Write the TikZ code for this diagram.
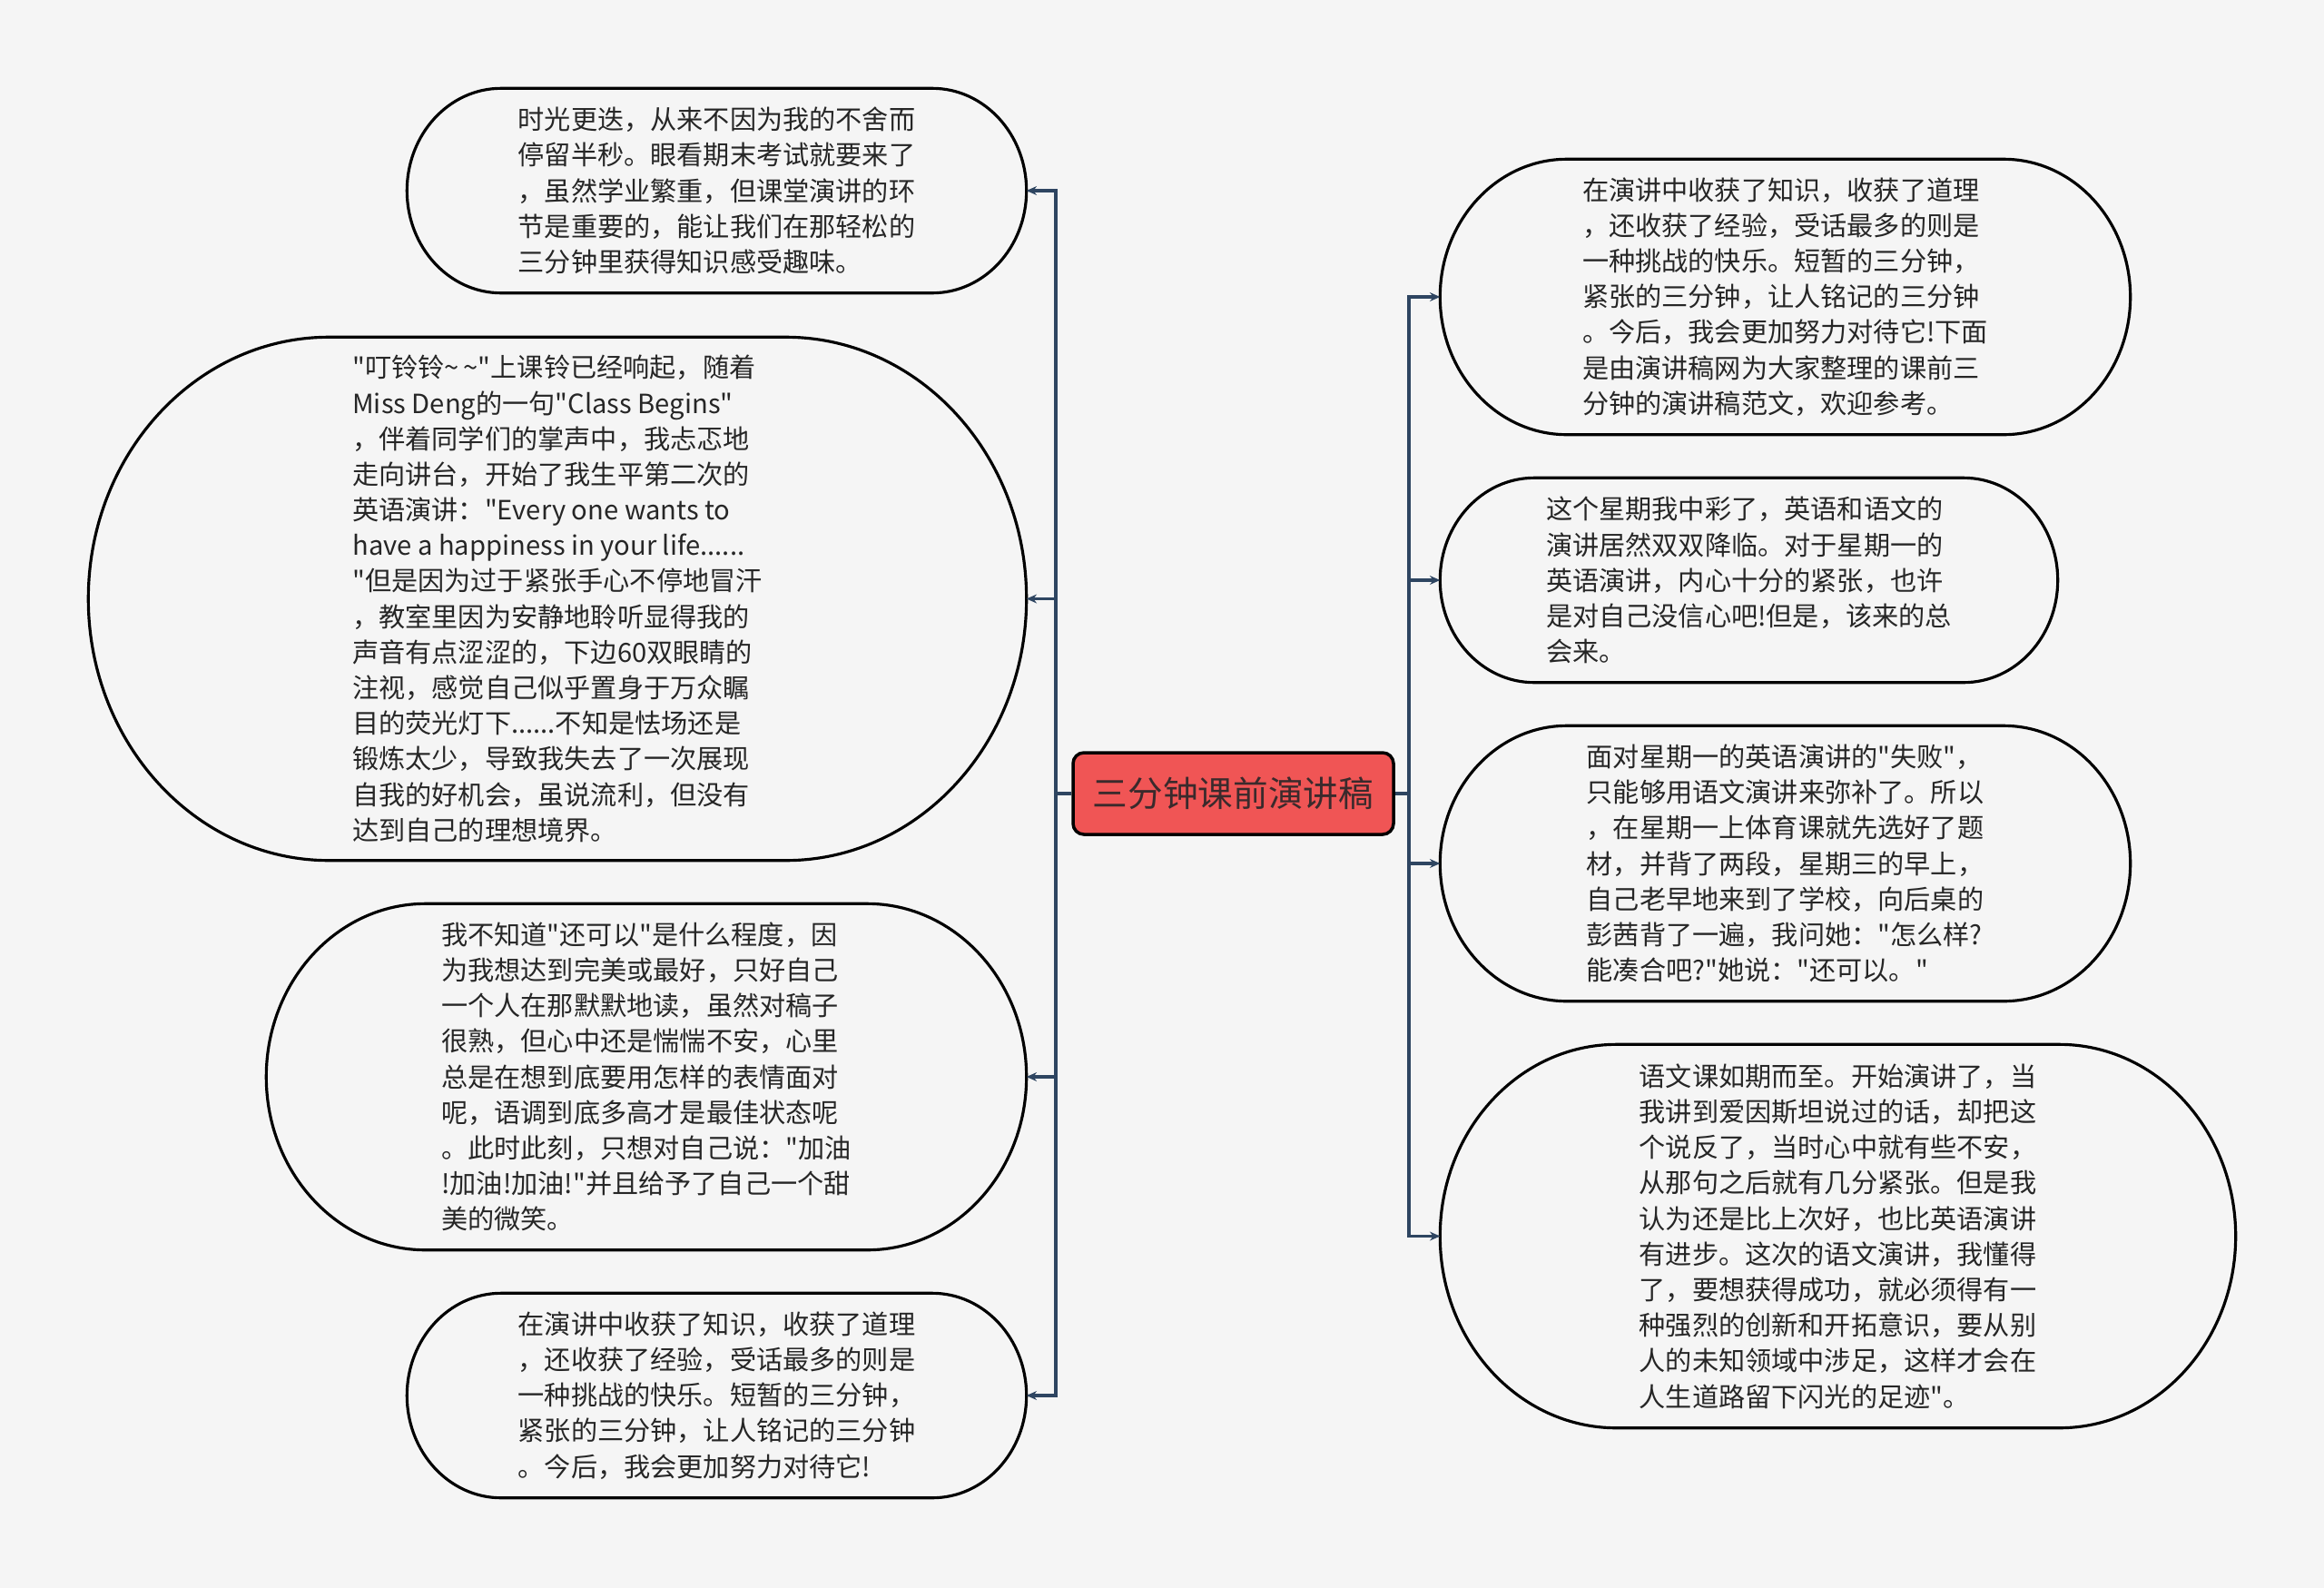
\documentclass[tikz,border=0pt]{standalone}
\usepackage{fontspec}
\setmainfont{Noto Sans CJK SC}[Ligatures=TeXOff]
\usetikzlibrary{arrows.meta,positioning,calc}
\definecolor{mapBg}{HTML}{F5F5F5}
\definecolor{mapRoot}{HTML}{F05555}
\definecolor{mapRootText}{HTML}{3A2A2C}
\definecolor{mapLink}{HTML}{2E4561}

\begin{document}
\begin{tikzpicture}[
            >=Stealth,
            every node/.style={font=\fontsize{8.3pt}{11.15pt}\selectfont},
            root/.style={
                draw=black,
                line width=1pt,
                fill=mapRoot,
                rounded corners=0.12cm,
                minimum width=3.53cm,
                minimum height=0.9cm,
                inner sep=0pt,
                text=mapRootText,
                font=\fontsize{11pt}{13pt}\selectfont
            },
            bubble/.style={inner sep=0pt, align=left, text=black!85},
            outline/.style={line width=0.9pt, draw=black},
            link/.style={-{Stealth[length=3.2pt, width=2.8pt]}, line width=0.9pt, draw=mapLink}
        ]

        \fill[mapBg] (0,0) rectangle (25.6,-17.49);
        \useasboundingbox (0,0) rectangle (25.6,-17.49);

        %---------------- Root ----------------%
        \node[root] (root) at (13.585,-8.74) {三分钟课前演讲稿};
        \coordinate (ltrunk) at (11.63,-8.74);
        \coordinate (rtrunk) at (15.52,-8.74);

        %---------------- Left ----------------%
        \node[bubble, minimum width=6.81cm, minimum height=2.24cm] (l1) at (7.895,-2.10)
            {时光更迭，从来不因为我的不舍而\\停留半秒。眼看期末考试就要来了\\，虽然学业繁重，但课堂演讲的环\\节是重要的，能让我们在那轻松的\\三分钟里获得知识感受趣味。};
        \node[bubble, minimum width=10.32cm, minimum height=5.75cm] (l2) at (6.14,-6.595)
            {"叮铃铃\textasciitilde\,\textasciitilde"上课铃已经响起，随着\\Miss Deng的一句"Class Begins"\\，伴着同学们的掌声中，我忐忑地\\走向讲台，开始了我生平第二次的\\英语演讲："Every one wants to\\have a happiness in your life......\\"但是因为过于紧张手心不停地冒汗\\，教室里因为安静地聆听显得我的\\声音有点涩涩的，下边60双眼睛的\\注视，感觉自己似乎置身于万众瞩\\目的荧光灯下......不知是怯场还是\\锻炼太少，导致我失去了一次展现\\自我的好机会，虽说流利，但没有\\达到自己的理想境界。};
        \node[bubble, minimum width=8.36cm, minimum height=3.80cm] (l3) at (7.12,-11.86)
            {我不知道"还可以"是什么程度，因\\为我想达到完美或最好，只好自己\\一个人在那默默地读，虽然对稿子\\很熟，但心中还是惴惴不安，心里\\总是在想到底要用怎样的表情面对\\呢，语调到底多高才是最佳状态呢\\。此时此刻，只想对自己说："加油\\!加油!加油!"并且给予了自己一个甜\\美的微笑。};
        \node[bubble, minimum width=6.81cm, minimum height=2.24cm] (l4) at (7.895,-15.37)
            {在演讲中收获了知识，收获了道理\\，还收获了经验，受话最多的则是\\一种挑战的快乐。短暂的三分钟，\\紧张的三分钟，让人铭记的三分钟\\。今后，我会更加努力对待它!};

        %---------------- Right ----------------%
        \node[bubble, minimum width=7.59cm, minimum height=3.02cm] (r1) at (19.665,-3.27)
            {在演讲中收获了知识，收获了道理\\，还收获了经验，受话最多的则是\\一种挑战的快乐。短暂的三分钟，\\紧张的三分钟，让人铭记的三分钟\\。今后，我会更加努力对待它!下面\\是由演讲稿网为大家整理的课前三\\分钟的演讲稿范文，欢迎参考。};
        \node[bubble, minimum width=6.79cm, minimum height=2.24cm] (r2) at (19.265,-6.39)
            {这个星期我中彩了，英语和语文的\\演讲居然双双降临。对于星期一的\\英语演讲，内心十分的紧张，也许\\是对自己没信心吧!但是，该来的总\\会来。};
        \node[bubble, minimum width=7.59cm, minimum height=3.02cm] (r3) at (19.665,-9.51)
            {面对星期一的英语演讲的"失败"，\\只能够用语文演讲来弥补了。所以\\，在星期一上体育课就先选好了题\\材，并背了两段，星期三的早上，\\自己老早地来到了学校，向后桌的\\彭茜背了一遍，我问她："怎么样?\\能凑合吧?"她说："还可以。"};
        \node[bubble, minimum width=8.75cm, minimum height=4.21cm] (r4) at (20.245,-13.615)
            {语文课如期而至。开始演讲了，当\\我讲到爱因斯坦说过的话，却把这\\个说反了，当时心中就有些不安，\\从那句之后就有几分紧张。但是我\\认为还是比上次好，也比英语演讲\\有进步。这次的语文演讲，我懂得\\了，要想获得成功，就必须得有一\\种强烈的创新和开拓意识，要从别\\人的未知领域中涉足，这样才会在\\人生道路留下闪光的足迹"。};

        %================ Bubble outlines =================%
        \foreach \b in {l1,l2,l3,l4,r1,r2,r3,r4}
            \draw[outline] let \p1=(\b.north east), \p2=(\b.south west),
                \n1={0.5*((\y1)-(\y2))}, \n2={0.92*(\n1)} in
                (\x2+\n2,\y1) -- (\x1-\n2,\y1)
                arc[start angle=90, end angle=-90, x radius={\n2*1pt}, y radius={\n1*1pt}]
                -- (\x2+\n2,\y2)
                arc[start angle=270, end angle=90, x radius={\n2*1pt}, y radius={\n1*1pt}]
                -- cycle;

        %================ Branches =================%
        \foreach \b in {l1,l2,l3,l4}
            \draw[link] (root.west) -- (ltrunk) |- (\b.east);
        \foreach \b in {r1,r2,r3,r4}
            \draw[link] (root.east) -- (rtrunk) |- (\b.west);

        \end{tikzpicture}
\end{document}
